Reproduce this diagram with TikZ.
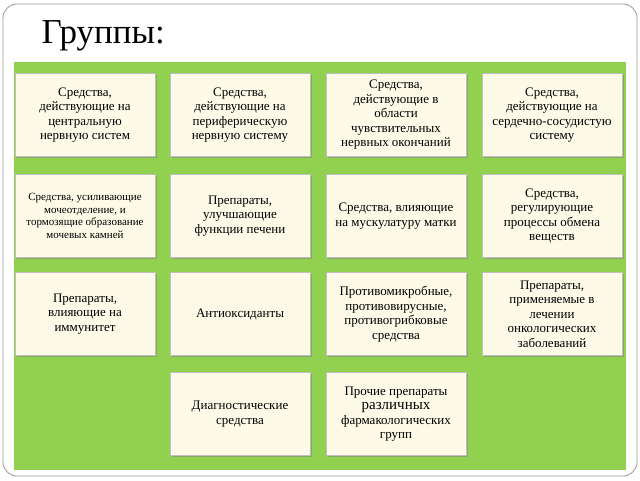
\documentclass[tikz,border=0pt]{standalone}
\usepackage{fontspec}
\setmainfont{Liberation Serif}
\usetikzlibrary{shadows}
\begin{document}
\begin{tikzpicture}[x=1pt,y=-1pt,
  cell/.style={draw=black!25,fill={rgb,255:red,253;green,251;blue,232},minimum width=140pt,minimum height=83pt,
    align=center,inner sep=1pt,font=\fontsize{13}{14.5}\selectfont,
    drop shadow={shadow xshift=1.5pt,shadow yshift=-1.5pt,opacity=0.5}}]
\useasboundingbox (0,0) rectangle (640,480);
\draw[black!40,line width=0.8pt,rounded corners=14pt] (3,4) rectangle (637,476);
\fill[fill={rgb,255:red,146;green,208;blue,80}] (14,62) rectangle (626,470);
\node[anchor=west,font=\fontsize{35}{37}\selectfont] (title) at (38,36) {Группы:};
\node[cell] (a1) at (85,115) {Средства,\\действующие на\\центральную\\нервную систем};
\node[cell] (a2) at (240,115) {Средства,\\действующие на\\периферическую\\нервную систему};
\node[cell] (a3) at (396,115) {Средства,\\действующие в\\области\\чувствительных\\нервных окончаний};
\node[cell] (a4) at (552,115) {Средства,\\действующие на\\сердечно-сосудистую\\систему};
\node[cell,font=\fontsize{11}{12.5}\selectfont] (b1) at (85,216) {Средства, усиливающие\\мочеотделение, и\\тормозящие образование\\мочевых камней};
\node[cell] (b2) at (240,216) {Препараты,\\улучшающие\\функции печени};
\node[cell] (b3) at (396,216) {Средства, влияющие\\на мускулатуру матки};
\node[cell] (b4) at (552,216) {Средства,\\регулирующие\\процессы обмена\\веществ};
\node[cell] (c1) at (85,314) {Препараты,\\влияющие на\\иммунитет};
\node[cell] (c2) at (240,314) {Антиоксиданты};
\node[cell] (c3) at (396,314) {Противомикробные,\\противовирусные,\\противогрибковые\\средства};
\node[cell] (c4) at (552,314) {Препараты,\\применяемые в\\лечении\\онкологических\\заболеваний};
\node[cell] (d2) at (240,414) {Диагностические\\средства};
\node[cell] (d3) at (396,414) {Прочие препараты\\{\fontsize{15}{16}\selectfont различных}\\фармакологических\\групп};
\end{tikzpicture}
\end{document}
